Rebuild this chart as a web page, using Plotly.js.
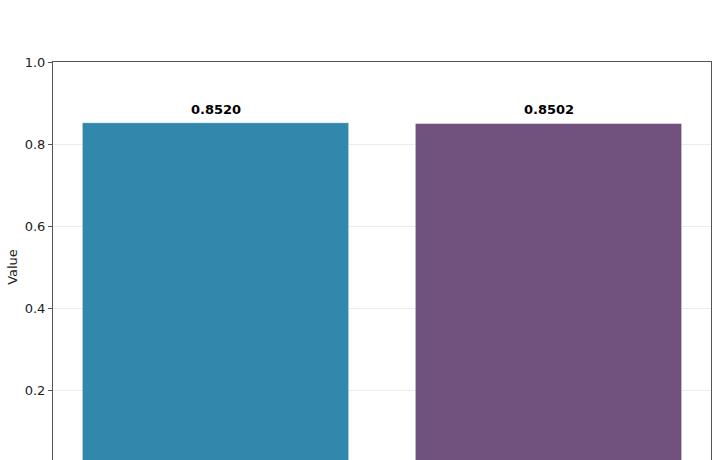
<!DOCTYPE html>
<html><head><meta charset="utf-8">
<script src="https://cdn.plot.ly/plotly-3.0.1.min.js"></script>
<style>html,body{margin:0;padding:0;overflow:hidden;background:#fff}</style>
</head><body>
<div id="chart" style="width:720px;height:540px"></div>
<script>
const categories = ["Model A", "Model B"];
const values = [0.8520, 0.8502];
const barColors = ["#2E86AB", "#6F4E7C"];
const yTicks = [0.2, 0.4, 0.6, 0.8, 1.0];

const trace = {
  type: "bar",
  x: categories,
  y: values,
  width: 0.8,
  marker: {color: barColors, opacity: 0.98, line: {color: "rgba(255,255,255,0.5)", width: 1}},
  hoverinfo: "skip"
};

const annotations = categories.map((c, i) => ({
  x: c, y: values[i], xref: "x", yref: "y",
  text: "<b>" + values[i].toFixed(4) + "</b>",
  showarrow: false, yanchor: "bottom", yshift: 4,
  font: {family: "DejaVu Sans", size: 13, color: "#000"}
}));

const layout = {
  width: 720, height: 540,
  margin: {l: 53, r: 9, t: 62, b: 68},
  paper_bgcolor: "#fff", plot_bgcolor: "#fff",
  font: {family: "DejaVu Sans", size: 12, color: "#222"},
  showlegend: false,
  bargap: 0.2,
  xaxis: {
    type: "category", range: [-0.488, 1.488],
    showline: true, linecolor: "#555", linewidth: 1, mirror: true,
    ticks: "outside", ticklen: 4, tickcolor: "#555",
    showgrid: false, zeroline: false
  },
  yaxis: {
    range: [0, 1.0], tickvals: yTicks, ticktext: yTicks.map(v => v.toFixed(1)),
    showline: true, linecolor: "#555", linewidth: 1, mirror: true,
    ticks: "outside", ticklen: 4, tickcolor: "#555",
    showgrid: true, gridcolor: "#ebebeb", gridwidth: 1, zeroline: false,
    tickfont: {size: 13, color: "#222"},
    title: {text: "Value", font: {size: 13, color: "#222"}, standoff: 4}
  },
  annotations: annotations
};

Plotly.newPlot("chart", [trace], layout, {displayModeBar: false, staticPlot: true});
</script>
</body></html>
